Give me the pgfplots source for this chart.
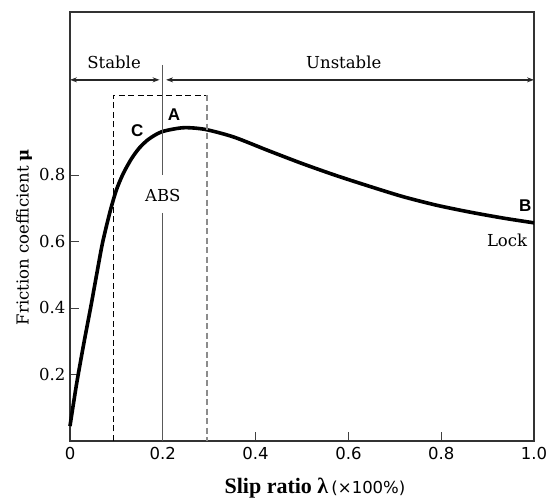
\documentclass[border=0pt]{standalone}
\usepackage{fontspec}
\setmainfont{DejaVu Serif}
\newfontfamily\sansf{DejaVu Sans}
\newfontfamily\arialf{Liberation Sans}
\newfontfamily\timesf{Liberation Serif}
\usepackage{pgfplots}
\pgfplotsset{compat=1.18}
\usetikzlibrary{arrows.meta}

\newcommand{\lbl}{\fontsize{16.5}{18}\selectfont}
\newcommand{\pt}[1]{\arialf\bfseries\fontsize{17}{19}\selectfont #1}

\begin{document}
\begin{tikzpicture}
\begin{axis}[
    scale only axis,
    width=464pt, height=429pt,
    xmin=0, xmax=1, ymin=0, ymax=1.29,
    clip=false,
    axis line style={line width=1.4pt, black!80},
    xtick={0,0.2,0.4,0.6,0.8,1},
    xticklabels={0,0.2,0.4,0.6,0.8,1.0},
    ytick={0.2,0.4,0.6,0.8},
    yticklabels={0.2,0.4,0.6,0.8},
    xtick pos=bottom, ytick pos=left,
    tick align=inside,
    major tick length=9pt,
    tick style={black!75, line width=0.9pt},
    /pgf/number format/assume math mode=true,
    x tick label style={font=\sansf\fontsize{16.5}{18}\selectfont, yshift=-3pt},
    y tick label style={font=\lbl, xshift=-1pt},
]

% mu-slip curve
\addplot[black, line width=3.6pt, smooth, tension=0.45] coordinates {
    (0.000,0.045) (0.014,0.170) (0.030,0.295) (0.045,0.405) (0.058,0.505)
    (0.070,0.595) (0.086,0.688) (0.100,0.755) (0.115,0.805) (0.133,0.850)
    (0.150,0.882) (0.170,0.908) (0.198,0.930) (0.244,0.942) (0.291,0.937)
    (0.353,0.914) (0.426,0.874) (0.499,0.835) (0.572,0.799) (0.645,0.766)
    (0.717,0.735) (0.790,0.709) (0.863,0.688) (0.935,0.670) (1.000,0.656)
};

% ABS window
\draw[black, line width=1pt, dash pattern=on 6pt off 3.5pt]
    (axis cs:0.093,0) -- (axis cs:0.093,1.04) -- (axis cs:0.295,1.04);
\draw[black!45, line width=1.6pt, dash pattern=on 6pt off 3.5pt]
    (axis cs:0.295,1.04) -- (axis cs:0.295,0);

% lambda = 0.2 marker
\draw[black!65, line width=1pt] (axis cs:0.2,1.131) -- (axis cs:0.2,0.80);
\draw[black!65, line width=1pt] (axis cs:0.2,0.686) -- (axis cs:0.2,0);

% stable / unstable ranges
\draw[black!85, line width=1.6pt, {Stealth[length=7pt,width=5pt]}-{Stealth[length=7pt,width=5pt]}]
    (axis cs:0,1.086) -- (axis cs:0.193,1.086);
\draw[black!85, line width=1.6pt, {Stealth[length=7pt,width=5pt]}-{Stealth[length=7pt,width=5pt]}]
    (axis cs:0.207,1.086) -- (axis cs:1,1.086);

\node[font=\lbl] at (axis cs:0.095,1.138) {Stable};
\node[font=\lbl] at (axis cs:0.59,1.138) {Unstable};
\node[font=\lbl] at (axis cs:0.2,0.737) {ABS};
\node[font=\lbl] at (axis cs:0.942,0.602) {Lock};
\node at (axis cs:0.224,0.98) {\pt{A}};
\node at (axis cs:0.145,0.932) {\pt{C}};
\node at (axis cs:0.981,0.707) {\pt{B}};

% axis titles
\node[rotate=90, font=\lbl] at (axis cs:-0.099,0.613) {Friction coefficient \textbf{μ}};
\node at (axis cs:0.528,-0.141)
    {{\timesf\bfseries\fontsize{22}{24}\selectfont Slip ratio λ} {\sansf\fontsize{16.5}{18}\selectfont (×100\%)}};
\end{axis}
\pgfresetboundingbox
\path[use as bounding box]
    ([xshift=-70pt,yshift=-60pt]current axis.south west)
    rectangle ([xshift=16pt,yshift=12pt]current axis.north east);
\end{tikzpicture}
\end{document}
